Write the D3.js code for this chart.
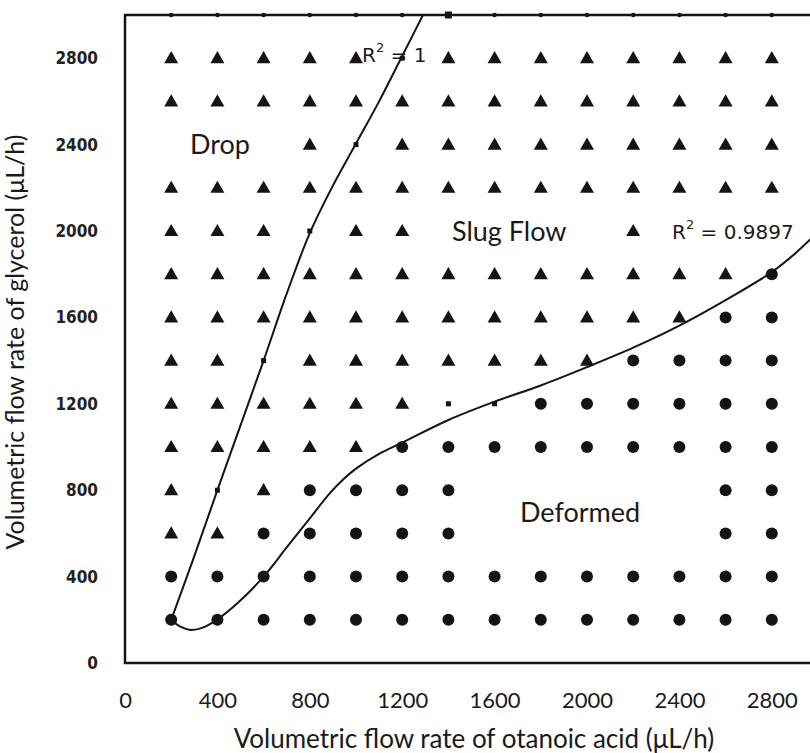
<!DOCTYPE html>
<html>
<head>
<meta charset="utf-8">
<script src="https://cdn.jsdelivr.net/npm/d3@7"></script>
<style>
  body { margin: 0; background: #fff; }
  svg { display: block; }
</style>
</head>
<body>
<div id="chart"></div>
<script>
// ----------------------------------------------
// Data
// ----------------------------------------------
var otanoicRates = [200, 400, 600, 800, 1000, 1200, 1400, 1600, 1800, 2000, 2200, 2400, 2600, 2800];
var glycerolRates = [2800, 2600, 2400, 2200, 2000, 1800, 1600, 1400, 1200, 1000, 800, 600, 400, 200];

// T = slug flow (triangle), C = deformed (circle), s = boundary point, . = nothing
var regimeRows = [
    "TTTTTsTTTTTTTT",
    "TTTTTTTTTTTTTT",
    "...TsTTTTTTTTT",
    "TTTTTTTTTTTTTT",
    "TTTsTT....T...",
    "TTTTTTTTTTTTTC",
    "TTTTTTTTTTTTCC",
    "TTsTTTTTTTCCCC",
    "TTTTTTssCCCCCC",
    "TTTTTCCCCCCCCC",
    "TsTCCCC.....CC",
    "TTCCCCC.....CC",
    "CCCCCCCCCCCCCC",
    "CCCCCCCCCCCCCC"
];
// markers sitting on the top border (3000 µL/h)
var topRow = "ssssssSsssssss";

var xTicks = [0, 400, 800, 1200, 1600, 2000, 2400, 2800];
var yTicks = [0, 400, 800, 1200, 1600, 2000, 2400, 2800];

// boundary trendlines
var dropBoundary = [[200, 200], [295, 480], [400, 800], [500, 1100], [600, 1400], [700, 1710],
    [800, 1990], [900, 2210], [1000, 2405], [1100, 2600], [1200, 2810], [1290, 3000]];
var deformedBoundary = [[200, 200], [240, 168], [285, 153], [340, 165], [400, 202], [490, 280],
    [600, 400], [700, 535], [800, 670], [890, 790], [950, 855], [1000, 900], [1100, 968],
    [1200, 1020], [1400, 1125], [1600, 1210], [1800, 1285], [2000, 1370], [2200, 1460],
    [2400, 1562], [2600, 1680], [2800, 1810], [2900, 1895], [2980, 1975]];

// ----------------------------------------------
// Basic D3 Setup
// ----------------------------------------------
var svgWidth = 810;
var svgHeight = 753;

var svg = d3.select("#chart")
    .append("svg")
    .attr("width", svgWidth)
    .attr("height", svgHeight);

var xScale = d3.scaleLinear().domain([0, 3000]).range([125, 818]);
var yScale = d3.scaleLinear().domain([0, 3000]).range([663, 15]);

var ink = "#141414";
var labelFont = "Lato, 'Open Sans', sans-serif";

// plot frame
svg.append("rect")
    .attr("x", xScale(0))
    .attr("y", yScale(3000))
    .attr("width", xScale(3000) - xScale(0))
    .attr("height", yScale(0) - yScale(3000))
    .attr("fill", "none")
    .attr("stroke", ink)
    .attr("stroke-width", 2.5);

// axes (labels only, no tick marks)
var xAxis = svg.append("g")
    .attr("transform", `translate(0, ${yScale(0) + 29})`)
    .call(d3.axisBottom(xScale).tickValues(xTicks).tickSize(0).tickPadding(0).tickFormat(d3.format("d")));
xAxis.select(".domain").remove();
xAxis.selectAll("text")
    .attr("font-family", labelFont)
    .attr("font-size", 22)
    .attr("fill", "#1a1a1a");

var yAxis = svg.append("g")
    .attr("transform", `translate(${xScale(0) - 27}, 0)`)
    .call(d3.axisLeft(yScale).tickValues(yTicks).tickSize(0).tickPadding(0).tickFormat(d3.format("d")));
yAxis.select(".domain").remove();
yAxis.selectAll("text")
    .attr("font-family", "'DejaVu Sans Condensed', 'DejaVu Sans', sans-serif")
    .style("font-stretch", "condensed")
    .attr("font-weight", "bold")
    .attr("font-size", 17)
    .attr("fill", "#222");

// ----------------------------------------------
// Points
// ----------------------------------------------
var cells = [];
regimeRows.forEach((row, i) => {
    row.split("").forEach((code, j) => {
        if (code !== ".") cells.push({x: otanoicRates[j], y: glycerolRates[i], code: code});
    });
});
topRow.split("").forEach((code, j) => {
    cells.push({x: otanoicRates[j], y: 3000, code: code === "S" ? "S" : "t"});
});

var tri = d3.symbol().type(d3.symbolTriangle).size(85);

svg.selectAll(".slug")
    .data(cells.filter(d => d.code === "T"))
    .enter()
    .append("path")
    .classed("slug", true)
    .attr("d", tri)
    .attr("transform", d => `translate(${xScale(d.x)}, ${yScale(d.y) + 1})`)
    .attr("fill", ink);

svg.selectAll(".deformed")
    .data(cells.filter(d => d.code === "C"))
    .enter()
    .append("circle")
    .classed("deformed", true)
    .attr("cx", d => xScale(d.x))
    .attr("cy", d => yScale(d.y))
    .attr("r", 6)
    .attr("fill", ink);

// ----------------------------------------------
// Boundary curves
// ----------------------------------------------
var line = d3.line()
    .x(d => xScale(d[0]))
    .y(d => yScale(d[1]))
    .curve(d3.curveCatmullRom.alpha(0.5));

[dropBoundary, deformedBoundary].forEach(pts => {
    svg.append("path")
        .datum(pts)
        .attr("d", line)
        .attr("fill", "none")
        .attr("stroke", ink)
        .attr("stroke-width", 2);
});

// small boundary markers
svg.selectAll(".bpt")
    .data(cells.filter(d => d.code === "s" || d.code === "S"))
    .enter()
    .append("rect")
    .classed("bpt", true)
    .attr("x", d => xScale(d.x) - (d.code === "S" ? 3.5 : 2.5))
    .attr("y", d => yScale(d.y) - (d.code === "S" ? 3.5 : 2.5))
    .attr("width", d => d.code === "S" ? 7 : 5)
    .attr("height", d => d.code === "S" ? 7 : 5)
    .attr("fill", ink);

svg.selectAll(".tpt")
    .data(cells.filter(d => d.code === "t"))
    .enter()
    .append("circle")
    .classed("tpt", true)
    .attr("cx", d => xScale(d.x))
    .attr("cy", d => yScale(d.y))
    .attr("r", 2.3)
    .attr("fill", ink);

// ----------------------------------------------
// Labels
// ----------------------------------------------
function addText(x, y, txt, size, family) {
    return svg.append("text")
        .attr("x", x)
        .attr("y", y)
        .attr("dominant-baseline", "middle")
        .attr("font-family", family || labelFont)
        .attr("font-size", size)
        .attr("fill", "#1a1a1a")
        .text(txt);
}

addText(190, 147, "Drop", 27);
addText(452, 234, "Slug Flow", 27);
addText(520, 515, "Deformed", 27);

var rFont = "'DejaVu Sans', sans-serif";
var r1 = addText(362, 56, "", 20, rFont);
r1.append("tspan").text("R");
r1.append("tspan").attr("dy", -8).attr("font-size", 13).text("2");
r1.append("tspan").attr("dy", 8).text(" = 1");

var r2 = addText(672, 233, "", 20, rFont);
r2.append("tspan").text("R");
r2.append("tspan").attr("dy", -8).attr("font-size", 13).text("2");
r2.append("tspan").attr("dy", 8).text(" = 0.9897");

// axis titles
svg.append("text")
    .attr("x", 474)
    .attr("y", 741)
    .attr("text-anchor", "middle")
    .attr("dominant-baseline", "middle")
    .attr("font-family", labelFont)
    .attr("font-size", 26)
    .attr("fill", "#1a1a1a")
    .text("Volumetric flow rate of otanoic acid (μL/h)");

svg.append("text")
    .attr("transform", `translate(18, 342) rotate(-90)`)
    .attr("text-anchor", "middle")
    .attr("dominant-baseline", "middle")
    .attr("font-family", labelFont)
    .attr("font-size", 25)
    .attr("fill", "#1a1a1a")
    .text("Volumetric flow rate of glycerol (μL/h)");
</script>
</body>
</html>
